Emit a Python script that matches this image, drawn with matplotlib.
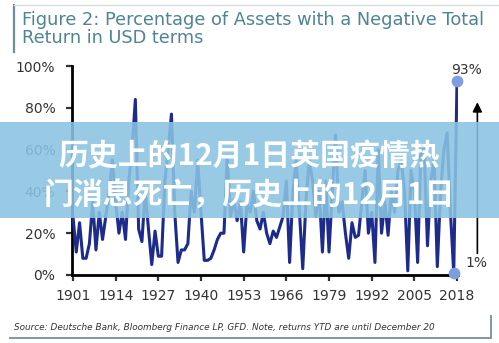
import matplotlib
matplotlib.use("Agg")
import matplotlib.pyplot as plt
from matplotlib.lines import Line2D
from matplotlib.patches import Rectangle

# share of assets with a negative total return, 1901-2018 (%)
years = list(range(1901, 2019))
neg_share = [
    28, 11, 25, 8, 8, 15, 35, 12, 30, 17,      # 1901-1910
    28, 40, 55, 35, 20, 30, 17, 45, 60, 84,    # 1911-1920
    22, 16, 40, 22, 5, 21, 9, 9, 45, 60,       # 1921-1930
    77, 30, 6, 12, 12, 15, 40, 30, 55, 30,     # 1931-1940
    7, 7, 8, 12, 17, 20, 20, 57, 28, 36,       # 1941-1950
    26, 35, 11, 34, 30, 40, 26, 22, 30, 20,    # 1951-1960
    15, 21, 18, 23, 28, 45, 6, 40, 55, 30,     # 1961-1970
    3, 36, 55, 45, 28, 40, 11, 45, 11, 40,     # 1971-1980
    67, 30, 35, 20, 8, 25, 18, 19, 35, 50,     # 1981-1990
    20, 30, 6, 60, 20, 35, 19, 40, 30, 50,     # 1991-2000
    55, 40, 2, 50, 40, 6, 60, 60, 14, 45,      # 2001-2010
    55, 4, 40, 60, 68, 30, 1, 93,              # 2011-2018
]
x_ticks = [1901, 1914, 1927, 1940, 1953, 1966, 1979, 1992, 2005, 2018]
y_ticks = [0, 20, 40, 60, 80, 100]

title = "Figure 2: Percentage of Assets with a Negative Total\nReturn in USD terms"
source = "Source: Deutsche Bank, Bloomberg Finance LP, GFD. Note, returns YTD are until December 20"
banner = "历史上的12月1日英国疫情热\n门消息死亡，历史上的12月1日"

W, H = 499, 343
fig = plt.figure(figsize=(W / 100, H / 100), dpi=100)
fig.patch.set_facecolor("white")

def fx(px):
    return px / W

def fy(py):
    return 1 - py / H

ax = fig.add_axes([fx(72), fy(275), fx(458 - 72), (275 - 66) / H])
ax.plot(years, neg_share, color="#1d2b8c", lw=2.2, solid_joinstyle="round", zorder=3)
ax.scatter([years[-2], years[-1]], [neg_share[-2], neg_share[-1]], s=55,
           color="#7d9fe0", zorder=4, clip_on=False)

ax.set_xlim(1900.7, 2018.3)
ax.set_ylim(0, 100)
ax.set_xticks(x_ticks)
ax.set_yticks(y_ticks)
ax.set_yticklabels([f"{v}%" for v in y_ticks])
ax.tick_params(axis="both", labelsize=10, colors="#333333", length=4, width=1.6)
ax.tick_params(axis="x", pad=6)
ax.tick_params(axis="y", pad=8)
for side in ["top", "right"]:
    ax.spines[side].set_visible(False)
for side in ["left", "bottom"]:
    ax.spines[side].set_linewidth(2)
    ax.spines[side].set_color("black")

ax.annotate("93%", xy=(2018, 93), xytext=(2021, 98), textcoords="data",
            ha="center", va="center", fontsize=10, color="#333333",
            annotation_clip=False)
ax.text(2024, 5.7, "1%", ha="center", va="center", fontsize=10, color="#333333",
        clip_on=False)
ax.annotate("", xy=(2024.2, 84), xytext=(2024.2, 9),
            arrowprops=dict(arrowstyle="-|>", color="black", lw=1.2,
                            mutation_scale=14),
            annotation_clip=False)

# title box
fig.text(fx(22), fy(29), title, fontsize=12.8, color="#4f8494",
         ha="left", va="center", linespacing=1.02)
fig.add_artist(Line2D([fx(14), fx(14)], [fy(5), fy(52)], color="#6f8f98", lw=1.6))
fig.add_artist(Line2D([fx(14), fx(499)], [fy(5), fy(5)], color="#d6e0e3", lw=1.0))

# source box
fig.text(fx(14), fy(327), source, fontsize=6.4, style="italic", color="#333333",
         ha="left", va="center")
fig.add_artist(Line2D([fx(10), fx(491)], [fy(338), fy(338)], color="#7f9aa2", lw=1.4))
fig.add_artist(Line2D([fx(491), fx(491)], [fy(316), fy(338)], color="#7f9aa2", lw=1.4))

# overlay banner
fig.add_artist(Rectangle((0, fy(218)), 1, (218 - 122) / H, transform=fig.transFigure,
                         facecolor="#8ac3e2", alpha=0.88, edgecolor="none", zorder=10))
fig.text(0.5, fy(176), banner, fontsize=21.5, fontweight="bold", color="white",
         family=["Noto Sans CJK SC", "DejaVu Sans"], ha="center", va="center",
         linespacing=1.35, zorder=11)

fig.savefig("out.png", dpi=100)
